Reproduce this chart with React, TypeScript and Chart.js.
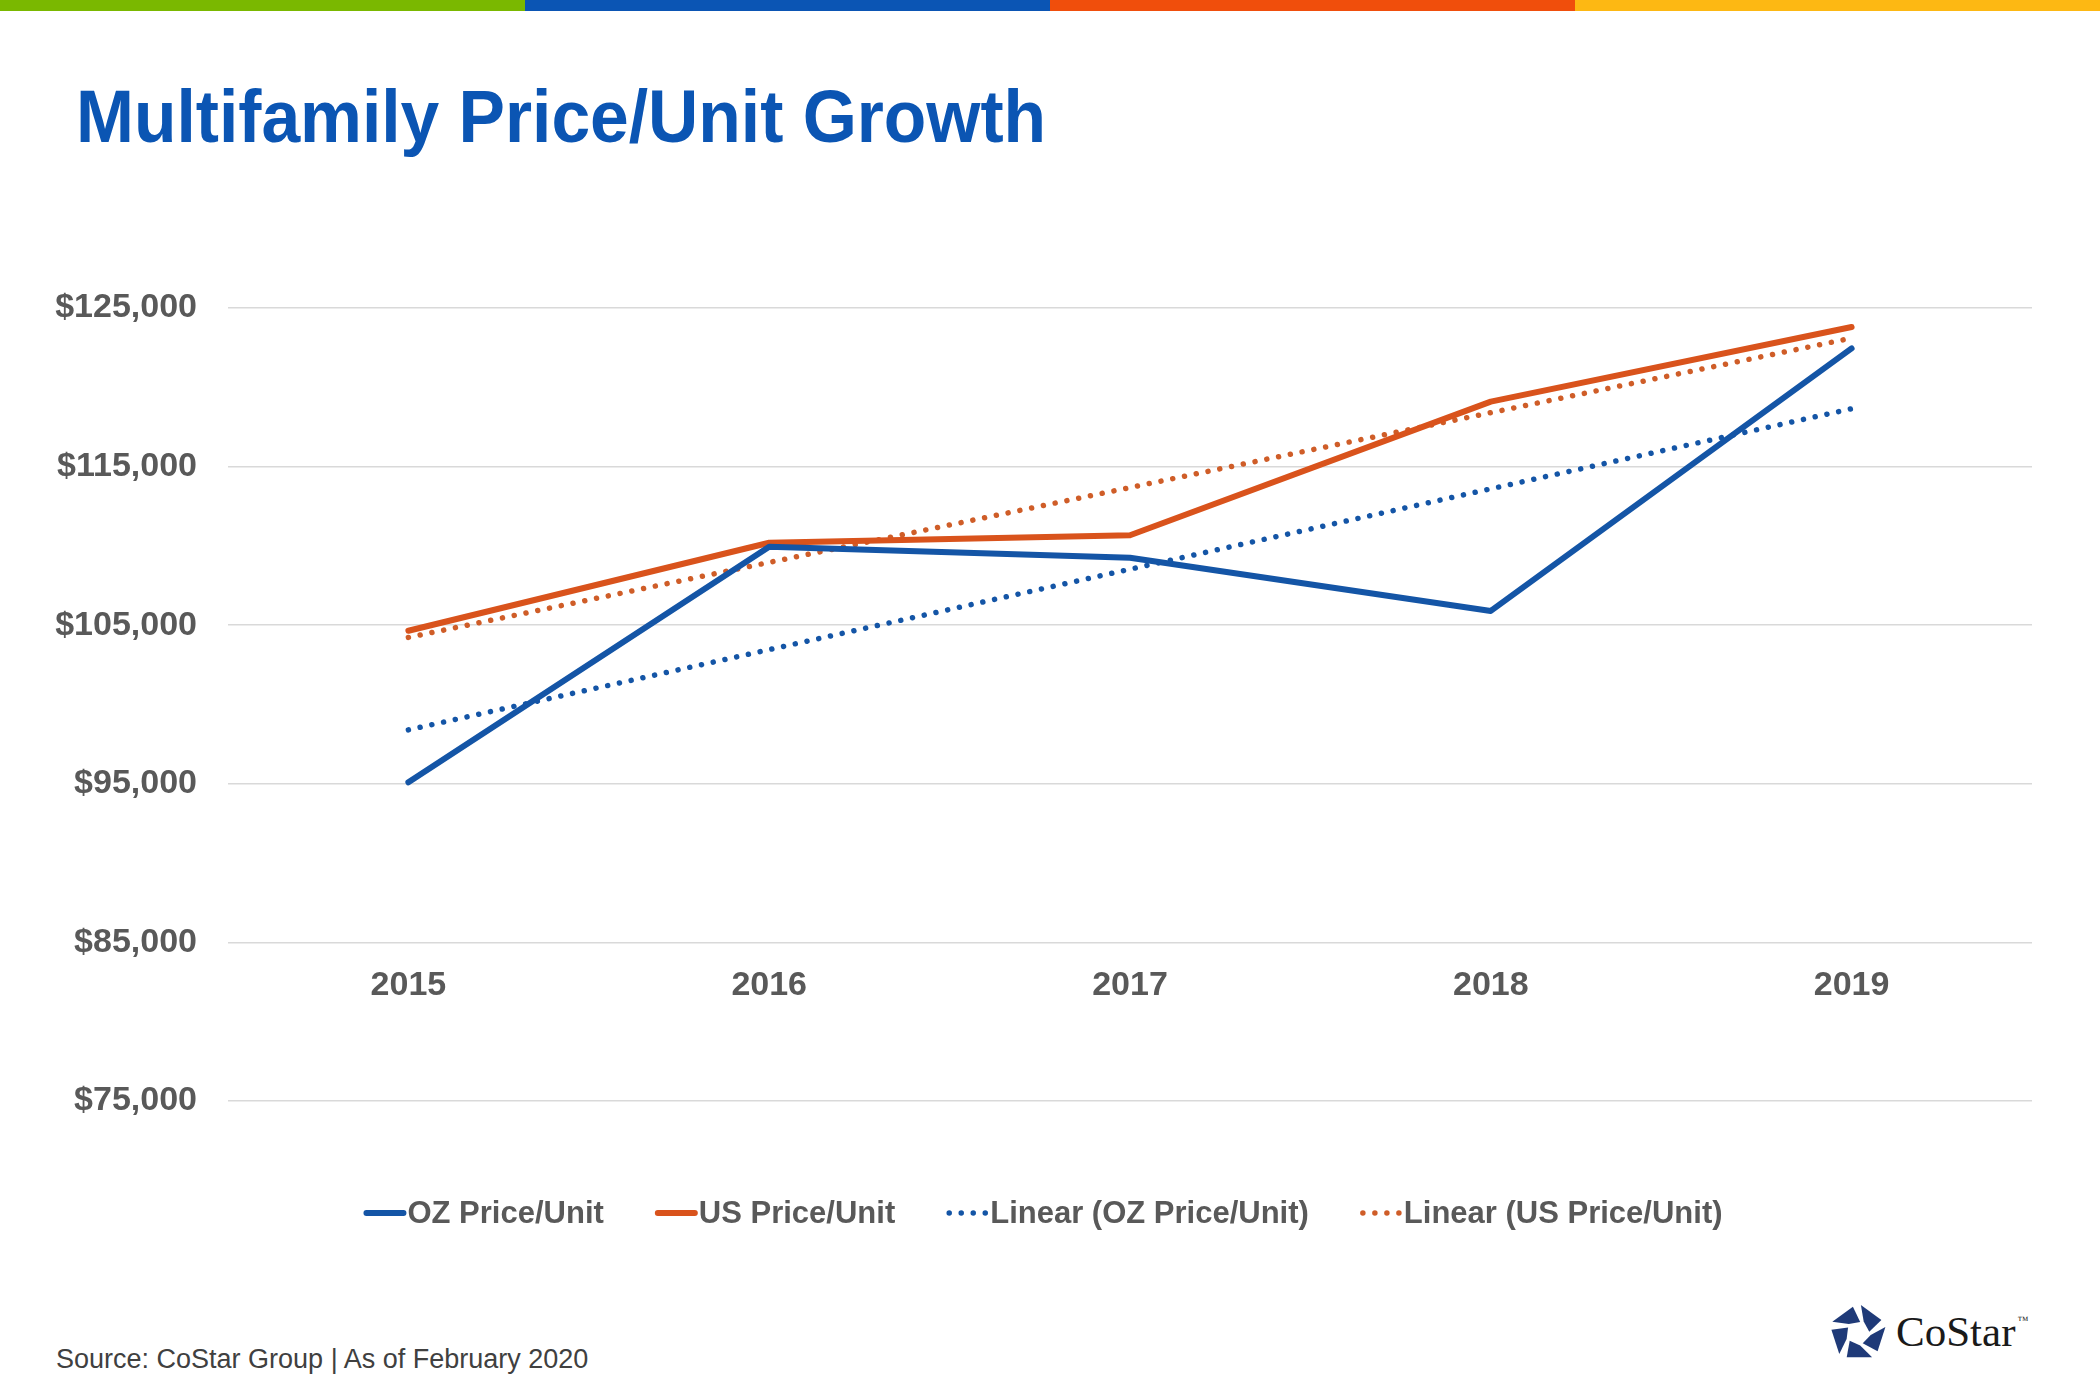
import { useEffect, useRef } from "react"
import { Chart, registerables } from "chart.js"

Chart.register(...registerables)

const years = ["2015", "2016", "2017", "2018", "2019"]
const ozPrice = [95100, 109950, 109250, 105900, 122450]
const usPrice = [104650, 110200, 110670, 119100, 123800]
const ozLinear = [98400, 103460, 108530, 113600, 118650]
const usLinear = [104230, 108960, 113680, 118400, 123100]
const yTicks = [75000, 85000, 95000, 105000, 115000, 125000]

const BLUE = "#1455a6"
const ORANGE = "#d9531c"
const ORANGE_DOT = "#cf5d28"
const GRAY = "#595959"
const FONT = "'Liberation Sans', Arial, sans-serif"

// legend drawn by hand so the text sits right against the line sample, like the slide
const lineLegend = {
  id: "lineLegend",
  afterDraw(chart: any) {
    const ctx = chart.ctx as CanvasRenderingContext2D
    const cx = 1043
    const y = 963
    const lineLen = 43
    const gapText = 1
    const gapItem = 51
    ctx.save()
    ctx.font = `bold 31px ${FONT}`
    const items = chart.data.datasets.map((ds: any) => ({ ds, w: ctx.measureText(ds.label).width }))
    const total =
      items.reduce((s: number, it: any) => s + lineLen + gapText + it.w, 0) + gapItem * (items.length - 1)
    let x = cx - total / 2
    items.forEach(({ ds, w }: any) => {
      ctx.strokeStyle = ds.borderColor
      ctx.lineWidth = ds.borderWidth
      ctx.lineCap = "round"
      ctx.setLineDash(ds.borderDash || [])
      ctx.beginPath()
      ctx.moveTo(x + 3, y)
      ctx.lineTo(x + lineLen - 3, y)
      ctx.stroke()
      ctx.setLineDash([])
      ctx.fillStyle = GRAY
      ctx.textAlign = "left"
      ctx.textBaseline = "middle"
      ctx.fillText(ds.label, x + lineLen + gapText, y + 1)
      x += lineLen + gapText + w + gapItem
    })
    ctx.restore()
  },
}

function starPieces(cx: number, cy: number, R: number, r: number) {
  const pts = (rad: number, k: number) => {
    const a = (-90 + k * 72) * (Math.PI / 180)
    return [cx + rad * Math.cos(a), cy + rad * Math.sin(a)]
  }
  const lerp = (p: number[], q: number[], t: number) => [p[0] + (q[0] - p[0]) * t, p[1] + (q[1] - p[1]) * t]
  const out: string[] = []
  for (let i = 0; i < 5; i++) {
    const o1 = pts(R, i), o2 = pts(R, i + 1)
    const i1 = pts(r, i + 0.35), i2 = pts(r, i + 1.35)
    const a = lerp(o1, o2, 0.1)
    const b = lerp(o1, o2, 0.82)
    const c = lerp(i1, i2, 0.78)
    const d = lerp(i1, i2, 0.02)
    out.push([a, b, c, d].map((p) => p.map((v) => v.toFixed(1)).join(",")).join(" "))
  }
  return out
}

export default function App() {
  const canvasRef = useRef<HTMLCanvasElement>(null)
  const chartRef = useRef<Chart | null>(null)

  useEffect(() => {
    if (!canvasRef.current) return
    if (chartRef.current) chartRef.current.destroy()
    const ctx = canvasRef.current.getContext("2d")
    if (!ctx) return

    chartRef.current = new Chart(ctx, {
      type: "line",
      data: {
        labels: years,
        datasets: [
          {
            label: "OZ Price/Unit",
            data: ozPrice,
            borderColor: BLUE,
            backgroundColor: BLUE,
            borderWidth: 6,
            pointRadius: 0,
            borderCapStyle: "round",
            borderJoinStyle: "round",
          },
          {
            label: "US Price/Unit",
            data: usPrice,
            borderColor: ORANGE,
            backgroundColor: ORANGE,
            borderWidth: 6,
            pointRadius: 0,
            borderCapStyle: "round",
            borderJoinStyle: "round",
          },
          {
            label: "Linear (OZ Price/Unit)",
            data: ozLinear,
            borderColor: BLUE,
            backgroundColor: BLUE,
            borderWidth: 5.5,
            borderDash: [0.01, 12],
            pointRadius: 0,
            borderCapStyle: "round",
          },
          {
            label: "Linear (US Price/Unit)",
            data: usLinear,
            borderColor: ORANGE_DOT,
            backgroundColor: ORANGE_DOT,
            borderWidth: 5.5,
            borderDash: [0.01, 12],
            pointRadius: 0,
            borderCapStyle: "round",
          },
        ],
      },
      options: {
        responsive: false,
        animation: false,
        devicePixelRatio: 1,
        layout: { padding: { top: 58, right: 68, bottom: 139, left: 0 } },
        plugins: {
          tooltip: { enabled: false },
          legend: { display: false },
        },
        scales: {
          x: {
            position: { y: 85000 } as any,
            offset: true,
            grid: { display: false, drawTicks: false },
            border: { display: false },
            ticks: { color: GRAY, padding: 23, font: { family: FONT, size: 34, weight: "bold" } },
            afterFit: (s: any) => {
              s.height = 0
            },
          },
          y: {
            min: 71850,
            max: 125000,
            afterBuildTicks: (s: any) => {
              s.ticks = yTicks.map((v) => ({ value: v }))
            },
            grid: { color: "#d9d9d9", lineWidth: 1.5, drawTicks: false },
            border: { display: false },
            ticks: {
              color: GRAY,
              padding: 31,
              font: { family: FONT, size: 34, weight: "bold" },
              callback: (v: any) => "$" + Number(v).toLocaleString("en-US"),
            },
            afterFit: (s: any) => {
              s.width = 228
            },
          },
        },
      },
      plugins: [lineLegend],
    })

    return () => {
      if (chartRef.current) {
        chartRef.current.destroy()
        chartRef.current = null
      }
    }
  }, [])

  const bars = ["#7ab800", "#0b55b4", "#f04e0c", "#fdb813"]

  return (
    <div style={{ position: "absolute", left: 0, top: 0, width: 2100, height: 1400, background: "#fff", overflow: "hidden" }}>
      <div style={{ position: "absolute", left: 0, top: 0, width: 2100, height: 11, display: "flex" }}>
        {bars.map((c) => (
          <div key={c} style={{ flex: 1, background: c }} />
        ))}
      </div>
      <div
        style={{
          position: "absolute",
          left: 76,
          top: 80,
          fontFamily: FONT,
          fontWeight: "bold",
          fontSize: 74,
          lineHeight: 1,
          color: "#0b55b3",
          whiteSpace: "nowrap",
          transform: "scaleX(0.94)",
          transformOrigin: "left top",
        }}
      >
        Multifamily Price/Unit Growth
      </div>
      <canvas ref={canvasRef} width={2100} height={1040} style={{ position: "absolute", left: 0, top: 250 }} />
      <div
        style={{
          position: "absolute",
          left: 56,
          top: 1346,
          fontFamily: FONT,
          fontSize: 27,
          lineHeight: 1,
          color: "#404040",
          whiteSpace: "nowrap",
        }}
      >
        Source: CoStar Group | As of February 2020
      </div>
      <svg style={{ position: "absolute", left: 1826, top: 1300 }} width={64} height={64}>
        {starPieces(32, 33, 30, 13).map((p, i) => (
          <polygon key={i} points={p} fill="#1f3a78" />
        ))}
      </svg>
      <div
        style={{
          position: "absolute",
          left: 1896,
          top: 1310,
          fontFamily: "'Liberation Serif', 'Times New Roman', serif",
          fontSize: 43,
          lineHeight: 1,
          color: "#1a1a1a",
          whiteSpace: "nowrap",
        }}
      >
        CoStar<span style={{ fontSize: 11, verticalAlign: 22, marginLeft: 2 }}>™</span>
      </div>
    </div>
  )
}
